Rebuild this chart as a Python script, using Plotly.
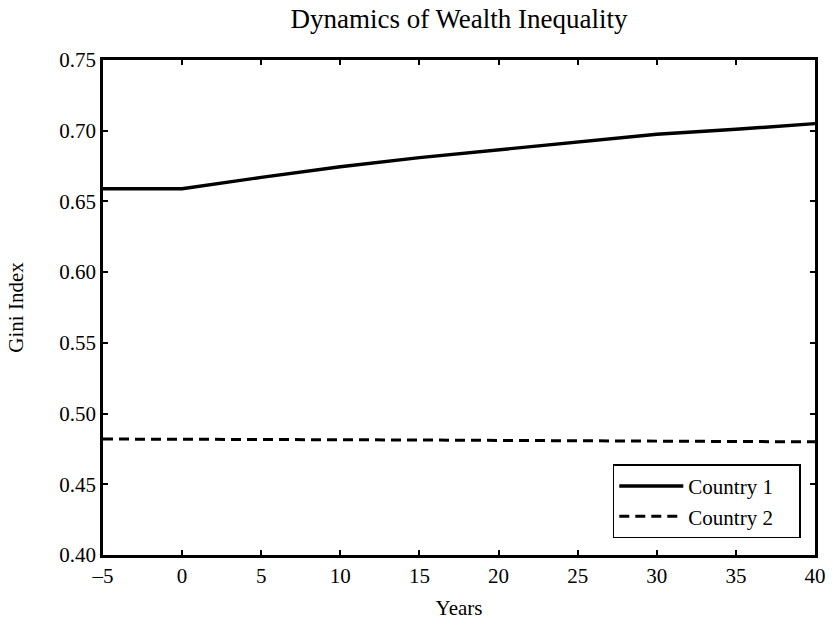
import plotly.graph_objects as go

# values
years = [-5, 0, 5, 10, 15, 20, 25, 30, 35, 40]
gini_country_1 = [0.659, 0.659, 0.667, 0.6745, 0.681, 0.6866, 0.6923, 0.6975, 0.701, 0.705]
gini_country_2 = [0.482, 0.482, 0.4818, 0.4815, 0.4813, 0.481, 0.4808, 0.4805, 0.4803, 0.480]

x_ticks = [-5, 0, 5, 10, 15, 20, 25, 30, 35, 40]
y_ticks = [0.40, 0.45, 0.50, 0.55, 0.60, 0.65, 0.70, 0.75]

serif = "Liberation Serif, Times New Roman, serif"
pad = "\u00a0" * 4  # extra room at the right of the legend box

fig = go.Figure()
fig.add_trace(go.Scatter(x=years, y=gini_country_1, mode="lines", name="Country 1" + pad,
                         line=dict(color="black", width=3.4)))
fig.add_trace(go.Scatter(x=years, y=gini_country_2, mode="lines", name="Country 2" + pad,
                         line=dict(color="black", width=3, dash="10px,6px")))

axis_style = dict(
    showline=True, linecolor="black", linewidth=2.8, mirror="allticks",
    ticks="inside", ticklen=5, tickwidth=2, tickcolor="black",
    showgrid=False, zeroline=False,
    tickfont=dict(family=serif, size=21, color="black"),
)

fig.update_xaxes(range=[-5, 40], tickvals=x_ticks, ticktext=[str(v).replace("-", "\u2013") for v in x_ticks],
                 title=dict(text="Years", font=dict(family=serif, size=21, color="black"), standoff=14),
                 **axis_style)
fig.update_yaxes(range=[0.40, 0.75], tickvals=y_ticks, ticktext=[f"{v:.2f}" for v in y_ticks],
                 title=dict(text="Gini Index", font=dict(family=serif, size=21, color="black"), standoff=30),
                 automargin=False, **axis_style)

fig.update_layout(
    width=838, height=629,
    margin=dict(l=103, r=13, t=60, b=67),
    paper_bgcolor="white", plot_bgcolor="white",
    title=dict(text="Dynamics of Wealth Inequality", x=0.5, xref="paper", xanchor="center",
               y=1 - 19 / 629, yref="container", yanchor="middle",
               font=dict(family=serif, size=27, color="black")),
    legend=dict(x=0.716, y=0.183, xanchor="left", yanchor="top",
                bordercolor="black", borderwidth=1.5, bgcolor="white",
                font=dict(family=serif, size=21, color="black"), itemwidth=64),
    showlegend=True,
)

# the page body has a default 8px margin; drop it so the figure fills the window
fig.write_html("out.html", config={"displayModeBar": False},
               post_script="document.body.style.margin='0';")
